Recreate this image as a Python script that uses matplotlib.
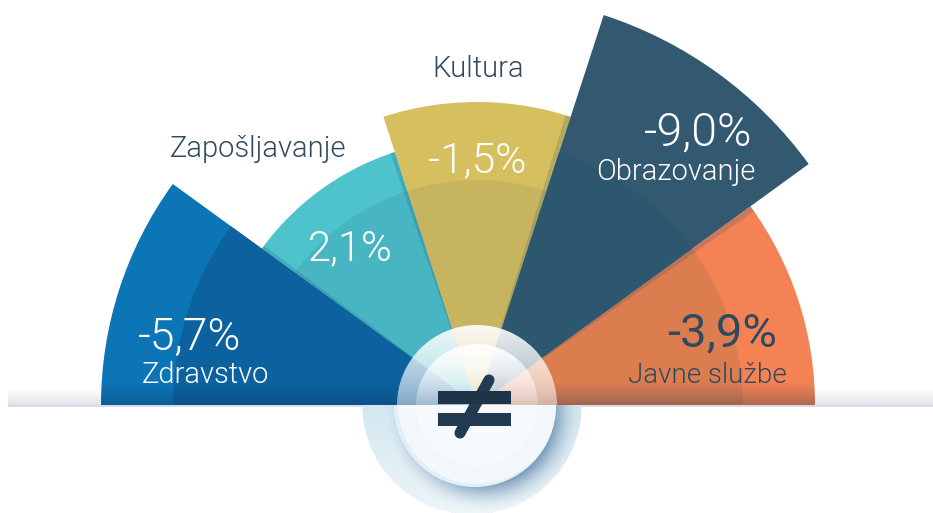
import numpy as np
import matplotlib
matplotlib.use('Agg')
import matplotlib.pyplot as plt
from matplotlib.patches import Wedge, Circle, Rectangle

plt.rcParams['font.family'] = ['Roboto', 'DejaVu Sans']

# podaci
sektori = ['Zdravstvo', 'Zapošljavanje', 'Kultura', 'Obrazovanje', 'Javne službe']
vrijednosti = ['-5,7%', '2,1%', '-1,5%', '-9,0%', '-3,9%']
vanjski_r = [376, 266, 303, 410, 338]
unutarnji_r = [304, 225, 225, 266, 266]

boje = ['#0b75b5', '#4ec3cc', '#d6bf5e', '#335971', '#f58255']
boje_unutra = ['#0b629f', '#47b5c2', '#c6b45f', '#2d566f', '#dc7d50']
redoslijed = [1, 4, 2, 0, 3]  # tko je ispod koga

W, H = 933, 513
cx, cy = 477, H - 405


def y_px(y):
    return H - y


fig = plt.figure(figsize=(W / 100, H / 100), dpi=100)
ax = fig.add_axes([0, 0, 1, 1])


def gradijent(rgba, extent, clip=None, zorder=1):
    im = ax.imshow(rgba, extent=extent, origin='upper', aspect='auto', zorder=zorder,
                   interpolation='bilinear')
    if clip is not None:
        ax.add_patch(clip)
        clip.set_visible(False)
        im.set_clip_path(clip)
    return im


def vertikalni(boja, a_gore, a_dolje, n=64):
    rgba = np.zeros((n, 2, 4))
    rgba[..., :3] = matplotlib.colors.to_rgb(boja)
    rgba[..., 3] = np.linspace(a_gore, a_dolje, n)[:, None]
    return rgba


# siva sjena iznad osnovne linije
gradijent(vertikalni('#d4d6e0', 0, 0.7), (8, W, y_px(406), y_px(388)), zorder=0.5)

korak = 180 / len(sektori)
z = 2
for i in redoslijed:
    t2 = 180 - i * korak
    t1 = t2 - korak
    ax.add_patch(Wedge((cx, cy), vanjski_r[i], t1, t2, fc=boje[i], ec='none', zorder=z))
    ax.add_patch(Wedge((cx, cy), unutarnji_r[i], t1, t2, fc=boje_unutra[i], ec='none', zorder=z + 0.1))
    # tamnjenje pri dnu
    gradijent(vertikalni('#0c2a50', 0, 0.28), (0, W, y_px(405), y_px(382)),
              clip=Wedge((cx, cy), vanjski_r[i], t1, t2), zorder=z + 0.2)
    z += 1

# uske sjene uz rubove susjednih isjecaka
sjene = [(143.2, 144.0, 1), (108.0, 109.0, 1), (72.0, 73.0, 2), (35.0, 36.0, 4)]
for a, b, i in sjene:
    ax.add_patch(Wedge((cx, cy), vanjski_r[i], a, b, fc='#16486e', ec='none', alpha=0.18, zorder=7.5))

# osnovna linija
ax.add_patch(Rectangle((8, y_px(406.5)), W - 8, 1.5, fc='#d5dde6', ec='none', zorder=8))

# halo ispod kruga
hx, hy = 472, y_px(405)
xx, yy = np.meshgrid(np.linspace(340, 600, 260), np.linspace(y_px(405), 0, 108))
halo = np.zeros(xx.shape + (4,))
halo[..., :3] = matplotlib.colors.to_rgb('#d3e7f0')
halo[..., 3] = np.where(np.hypot(xx - hx, yy - hy) < 110, 1 - 0.6 * (hy - yy) / 108, 0)
gradijent(halo, (340, 600, 0, y_px(405)), zorder=9)

# sjena kruga, pomaknuta dolje desno
d = np.hypot(xx - (cx + 7), yy - (cy - 10))
sjena = np.zeros(xx.shape + (4,))
sjena[..., :3] = matplotlib.colors.to_rgb('#5f86ad')
sjena[..., 3] = np.clip((98 - d) / 30, 0, 1) ** 1.8 * 0.85
sjena[..., 3] *= np.hypot(xx - hx, yy - hy) < 110
gradijent(sjena, (340, 600, 0, y_px(405)), zorder=9.5)

# krug, donji dio
klip = Rectangle((0, 0), W, y_px(405))
ax.add_patch(klip)
klip.set_visible(False)
rub = Circle((cx - 2, cy - 1), 81, fc='#e2f0f6', ec='none', zorder=10)
ax.add_patch(rub)
rub.set_clip_path(klip)
disk = Circle((cx, cy), 79, fc='#f1f7fa', ec='none', zorder=10.1)
ax.add_patch(disk)
disk.set_clip_path(klip)
jezgra = Circle((cx, cy), 61, fc='#f6fafc', ec='none', zorder=10.2)
ax.add_patch(jezgra)
jezgra.set_clip_path(klip)

# krug, gornji prozirni dio
gradijent(vertikalni('#ffffff', 0.92, 0.5), (cx - 80, cx + 80, cy, cy + 80),
          clip=Circle((cx, cy), 80), zorder=10.3)
gradijent(vertikalni('#ffffff', 0.95, 0.22), (cx - 61, cx + 61, cy, cy + 61),
          clip=Circle((cx, cy), 61), zorder=10.4)

# znak nejednakosti
ax.plot([460, 489], [y_px(433), y_px(380)], color='#223b50', lw=8, solid_capstyle='round', zorder=11)
ax.add_patch(Rectangle((438, y_px(404)), 73, 13, fc='#1e3449', ec='none', zorder=11.1))
ax.add_patch(Rectangle((438, y_px(426)), 73, 13, fc='#223b50', ec='none', zorder=11.1))

# tekstovi
tamna = '#2f4a5e'
poz_vrijednost = [(190, 350), (350, 260), (477, 172), (698, 146), (722, 346)]
boja_vrijednost = ['white', 'white', 'white', 'white', tamna]
tezina = [300, 300, 300, 300, 400]
velicina = [32, 30, 30.5, 33.5, 34]
for i in range(len(vrijednosti)):
    ax.text(poz_vrijednost[i][0], y_px(poz_vrijednost[i][1]), vrijednosti[i], fontsize=velicina[i],
            color=boja_vrijednost[i], fontweight=tezina[i], ha='center', va='baseline', zorder=12)

poz_sektor = [(205, 383), (258, 157), (478, 77), (676, 180), (707, 383)]
boja_sektor = ['white', tamna, tamna, 'white', tamna]
vel_sektor = [21, 21, 21, 21, 20]
for i in range(len(sektori)):
    ax.text(poz_sektor[i][0], y_px(poz_sektor[i][1]), sektori[i], fontsize=vel_sektor[i],
            color=boja_sektor[i], fontweight=300, ha='center', va='baseline', zorder=12)

ax.set_xlim(0, W)
ax.set_ylim(0, H)
ax.axis('off')
fig.savefig('out.png', dpi=100)
